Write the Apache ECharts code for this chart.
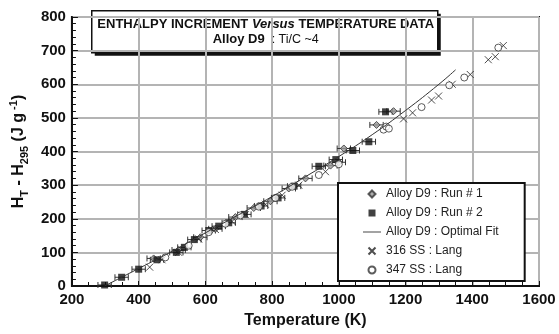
<!DOCTYPE html>
<html>
<head>
<meta charset="utf-8">
<script src="https://cdn.jsdelivr.net/npm/echarts@6/dist/echarts.min.js"></script>
<style>
  html, body { margin: 0; padding: 0; background: #fff; }
  #chart { width: 559px; height: 334px; }
</style>
</head>
<body>
<div id="chart"></div>
<script>
// Alloy D9 run 1 (diamonds)
let run1T = [445, 520, 585, 630, 690, 745, 795, 850, 900, 975, 1000, 1015, 1113, 1164];
let run1H = [82, 107, 145, 170, 205, 232, 252, 290, 320, 358, 368, 409, 479, 520];
// Alloy D9 run 2 (squares)
let run2T = [298, 349, 400, 455, 513, 537, 567, 610, 640, 670, 717, 767, 818, 866, 940, 991, 1042, 1090, 1140];
let run2H = [3, 26, 50, 78, 100, 115, 138, 165, 178, 188, 213, 238, 262, 297, 356, 376, 403, 429, 518];
// temperature uncertainty of the D9 runs (K)
let tErr = 20;
// optimal fit
let fitT = [298, 400, 500, 600, 700, 800, 900, 1000, 1100, 1200, 1300, 1350];
let fitH = [0, 52, 103, 158, 212, 266, 325, 385, 450, 522, 600, 643];
// 316 SS : Lang
let ss316T = [433, 470, 520, 580, 630, 680, 720, 780, 830, 880, 960, 1194, 1221, 1278, 1299, 1340, 1394, 1448, 1469, 1493];
let ss316H = [56, 78, 100, 140, 168, 192, 212, 243, 270, 300, 340, 497, 515, 553, 565, 600, 629, 673, 682, 715];
// 347 SS : Lang
let ss347T = [480, 550, 610, 660, 705, 760, 810, 860, 940, 1000, 1134, 1142, 1150, 1248, 1331, 1376, 1478];
let ss347H = [85, 120, 160, 185, 210, 236, 262, 295, 330, 362, 465, 474, 468, 532, 597, 620, 709];

let names = ["Alloy D9 : Run # 1", "Alloy D9 : Run # 2", "Alloy D9 : Optimal Fit", "316 SS : Lang", "347 SS : Lang"];

function pairs(xs, ys) {
    return xs.map((x, i) => [x, ys[i]]);
}

function errorBars(xs, ys) {
    return {
        type: "custom",
        silent: true,
        z: 1,
        data: xs.map((x, i) => [x - tErr, x + tErr, ys[i]]),
        renderItem: function (params, api) {
            let a = api.coord([api.value(0), api.value(2)]);
            let b = api.coord([api.value(1), api.value(2)]);
            let st = { stroke: "#333", lineWidth: 1 };
            return {
                type: "group",
                children: [
                    { type: "line", shape: { x1: a[0], y1: a[1], x2: b[0], y2: b[1] }, style: st },
                    { type: "line", shape: { x1: a[0], y1: a[1] - 3, x2: a[0], y2: a[1] + 3 }, style: st },
                    { type: "line", shape: { x1: b[0], y1: b[1] - 3, x2: b[0], y2: b[1] + 3 }, style: st }
                ]
            };
        }
    };
}

let chart = echarts.init(document.getElementById("chart"));
let font = "Liberation Sans, Arial, sans-serif";
let diamond = "path://M5,0L10,5L5,10L0,5Z";
let square = "path://M0,0L10,0L10,10L0,10Z";
let cross = "path://M0,0L10,10M10,0L0,10";

let option = {
    backgroundColor: "#fff",
    animation: false,
    textStyle: { fontFamily: font },
    grid: {
        left: 70, right: 20, top: 17, bottom: 45,
        show: true, borderColor: "#111", borderWidth: 2
    },
    legend: {
        data: [
            names[0],
            names[1],
            { name: names[2], icon: "path://M0,0L20,0L20,1L0,1Z" },
            names[3],
            { name: names[4], icon: "path://M5,0A5,5 0 1 1 4.99,0Z" }
        ],
        orient: "vertical",
        left: 338, top: 183,
        padding: [4, 26, 4, 25],
        itemWidth: 18, itemHeight: 7, itemGap: 5,
        backgroundColor: "#fff",
        borderColor: "#111", borderWidth: 2, borderRadius: 0,
        textStyle: { fontFamily: font, fontSize: 12, color: "#222", lineHeight: 14 }
    },
    xAxis: {
        type: "value", min: 200, max: 1600, interval: 200,
        name: "Temperature (K)", nameLocation: "middle", nameGap: 27,
        nameTextStyle: { fontFamily: font, fontSize: 16, fontWeight: "bold", color: "#111" },
        axisLine: { lineStyle: { color: "#111", width: 2 } },
        axisTick: { inside: true, length: 5, lineStyle: { color: "#111", width: 1 } },
        minorTick: { show: true, splitNumber: 4, length: 4, lineStyle: { color: "#111", width: 1 } },
        axisLabel: { fontFamily: font, fontSize: 15, fontWeight: "bold", color: "#111", margin: 6, formatter: v => String(v) },
        splitLine: { lineStyle: { color: "#b4b4b4", width: 2 } }
    },
    yAxis: {
        type: "value", min: 0, max: 800, interval: 100,
        name: "{b|H}{s|T}{b| - H}{s|295}{b| (J g}{p| -1}{b|)}",
        nameLocation: "middle", nameRotate: 90, nameGap: 37,
        nameTextStyle: {
            rich: {
                b: { fontFamily: font, fontSize: 16, fontWeight: "bold", color: "#111", lineHeight: 22, verticalAlign: "middle" },
                s: { fontFamily: font, fontSize: 11, fontWeight: "bold", color: "#111", lineHeight: 22, verticalAlign: "bottom" },
                p: { fontFamily: font, fontSize: 11, fontWeight: "bold", color: "#111", lineHeight: 22, verticalAlign: "top" }
            }
        },
        axisLine: { lineStyle: { color: "#111", width: 2 } },
        axisTick: { inside: true, length: 6, lineStyle: { color: "#111", width: 1 } },
        minorTick: { show: true, splitNumber: 5, length: 4, lineStyle: { color: "#111", width: 1 } },
        axisLabel: { fontFamily: font, fontSize: 15, fontWeight: "bold", color: "#111", margin: 6, formatter: v => String(v) },
        splitLine: { lineStyle: { color: "#b4b4b4", width: 2 } }
    },
    graphic: [
        {
            type: "group", left: 91, top: 10,
            children: [
                { type: "rect", shape: { x: 3, y: 3, width: 346, height: 42 }, style: { fill: "#111" } },
                { type: "rect", shape: { x: 0, y: 0, width: 346, height: 42 }, style: { fill: "#fff", stroke: "#111", lineWidth: 1.5 } },
                {
                    type: "text", x: 174, y: 14,
                    style: {
                        text: "{b|ENTHALPY INCREMENT }{i|Versus}{b| TEMPERATURE DATA}",
                        align: "center", verticalAlign: "middle",
                        rich: {
                            b: { fontFamily: font, fontSize: 13, fontWeight: "bold", fill: "#111" },
                            i: { fontFamily: font, fontSize: 13, fontWeight: "bold", fontStyle: "italic", fill: "#111" }
                        }
                    }
                },
                {
                    type: "text", x: 174, y: 29,
                    style: {
                        text: "{b|Alloy D9}{n| \u00a0: Ti/C ~4}",
                        align: "center", verticalAlign: "middle",
                        rich: {
                            b: { fontFamily: font, fontSize: 13, fontWeight: "bold", fill: "#111" },
                            n: { fontFamily: font, fontSize: 12.5, fill: "#111" }
                        }
                    }
                }
            ]
        }
    ],
    series: [
        errorBars(run1T, run1H),
        errorBars(run2T, run2H),
        {
            name: names[0], type: "scatter", z: 3,
            symbol: diamond, symbolSize: 7,
            itemStyle: { color: "#999", borderColor: "#333", borderWidth: 1 },
            data: pairs(run1T, run1H)
        },
        {
            name: names[1], type: "scatter", z: 3,
            symbol: square, symbolSize: 7,
            itemStyle: { color: "#111" },
            data: pairs(run2T, run2H)
        },
        {
            name: names[2], type: "line", z: 4,
            symbol: "none", smooth: true,
            lineStyle: { color: "#333", width: 1 },
            itemStyle: { color: "#333" },
            data: pairs(fitT, fitH)
        },
        {
            name: names[3], type: "scatter", z: 3,
            symbol: cross, symbolSize: 7,
            itemStyle: { color: "none", borderColor: "#222", borderWidth: 1 },
            data: pairs(ss316T, ss316H)
        },
        {
            name: names[4], type: "scatter", z: 3,
            symbol: "circle", symbolSize: 7,
            itemStyle: { color: "#fff", borderColor: "#333", borderWidth: 1 },
            data: pairs(ss347T, ss347H)
        }
    ]
};
chart.setOption(option);
</script>
</body>
</html>
